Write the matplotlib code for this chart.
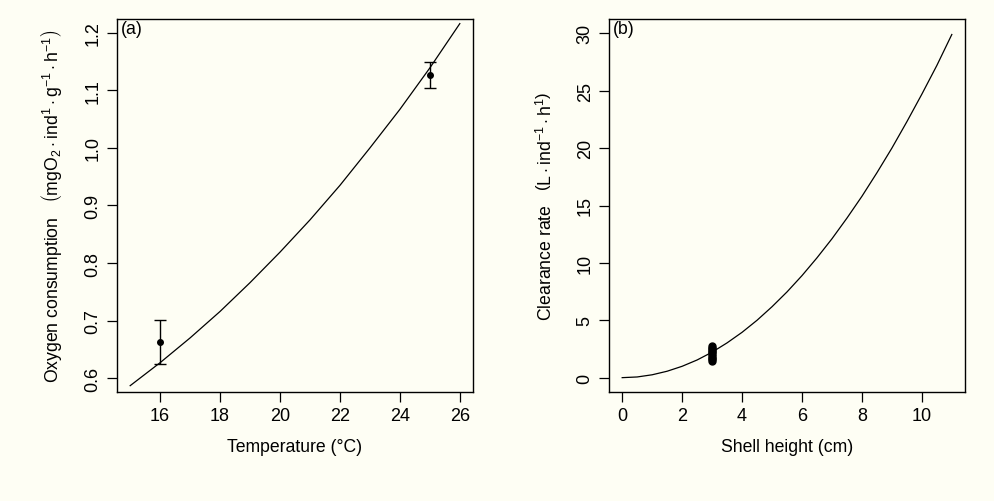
import numpy as np
import matplotlib
matplotlib.use("Agg")
import matplotlib.pyplot as plt

plt.rcParams['font.family'] = ['Liberation Sans', 'DejaVu Sans']
plt.rcParams['mathtext.fontset'] = 'custom'
plt.rcParams['mathtext.rm'] = 'Liberation Sans'
plt.rcParams['mathtext.it'] = 'Liberation Sans:italic'

# panel (a): fitted curve
temp_fit = [15, 16, 17, 18, 19, 20, 21, 22, 23, 24, 25, 26]
oxy_fit = [0.587, 0.627, 0.670, 0.716, 0.766, 0.819, 0.875, 0.935, 1.000, 1.067, 1.139, 1.216]

# panel (a): observed means with error bars
temp_obs = [16, 25]
oxy_mean = [0.663, 1.126]
oxy_lo = [0.625, 1.104]
oxy_hi = [0.701, 1.150]

# panel (b): fitted curve
shell_fit = [0, 0.5, 1, 1.5, 2, 2.5, 3, 3.5, 4, 4.5, 5, 5.5, 6, 6.5, 7, 7.5,
             8, 8.5, 9, 9.5, 10, 10.5, 11]
clear_fit = [0, 0.06, 0.25, 0.56, 0.99, 1.54, 2.22, 3.03, 3.95, 5.0, 6.18, 7.47,
             8.89, 10.44, 12.1, 13.9, 15.8, 17.85, 20.0, 22.3, 24.7, 27.2, 29.9]

# panel (b): observations at 3 cm
shell_obs = [3, 3, 3, 3, 3, 3, 3, 3, 3, 3]
clear_obs = [1.46, 1.6, 1.75, 1.9, 2.05, 2.2, 2.35, 2.5, 2.62, 2.73]

bg = '#FEFEF4'
fig = plt.figure(figsize=(9.94, 5.02), dpi=100, facecolor=bg)
ax1 = fig.add_axes([117/994, 1 - 393/502, 356/994, 373/502], facecolor=bg)
ax2 = fig.add_axes([609/994, 1 - 393/502, 356/994, 373/502], facecolor=bg)

fs = 12.7
fs_tick = 13

# (a)
ax1.plot(temp_fit, oxy_fit, color='black', lw=0.9)
yerr = [np.array(oxy_mean) - np.array(oxy_lo), np.array(oxy_hi) - np.array(oxy_mean)]
ax1.errorbar(temp_obs, oxy_mean, yerr=yerr, fmt='o', color='black', ms=4,
             elinewidth=1, capsize=4.3, capthick=1)
ax1.set_xlim(14.56, 26.44)
ax1.set_ylim(0.576, 1.224)
ax1.set_xticks([16, 18, 20, 22, 24, 26])
ax1.set_yticks([0.6, 0.7, 0.8, 0.9, 1.0, 1.1, 1.2])
ax1.set_yticklabels(['0.6', '0.7', '0.8', '0.9', '1.0', '1.1', '1.2'])
ax1.set_xlabel('Temperature (°C)', fontsize=fs)
ax1.set_ylabel(r'Oxygen consumption   $\left(\mathrm{mgO_2 \cdot ind^{1} \cdot g^{-1} \cdot h^{-1}}\right)$',
               fontsize=fs)
ax1.text(0.012, 0.997, '(a)', transform=ax1.transAxes, ha='left', va='top', fontsize=fs)

# (b)
ax2.plot(shell_fit, clear_fit, color='black', lw=0.9)
ax2.plot(shell_obs, clear_obs, 'o', color='black', ms=5)
ax2.set_xlim(-0.44, 11.44)
ax2.set_ylim(-1.25, 31.25)
ax2.set_xticks([0, 2, 4, 6, 8, 10])
ax2.set_yticks([0, 5, 10, 15, 20, 25, 30])
ax2.set_xlabel('Shell height (cm)', fontsize=fs)
ax2.set_ylabel(r'Clearance rate   $\left(\mathrm{L \cdot ind^{-1} \cdot h^{1}}\right)$', fontsize=fs)
ax2.text(0.012, 0.997, '(b)', transform=ax2.transAxes, ha='left', va='top', fontsize=fs)

for ax in (ax1, ax2):
    for s in ax.spines.values():
        s.set_linewidth(1)
        s.set_color('black')
    ax.tick_params(axis='both', direction='out', length=7, width=0.9, labelsize=fs_tick)
    ax.tick_params(axis='x', pad=4)
    ax.tick_params(axis='y', pad=4)
    for lab in ax.get_yticklabels():
        lab.set_rotation(90)
        lab.set_va('center')
    ax.xaxis.set_label_coords(0.5, -0.122)
    ax.yaxis.set_label_coords(-0.149, 0.5)

fig.savefig('out.png', dpi=100, facecolor=bg)
